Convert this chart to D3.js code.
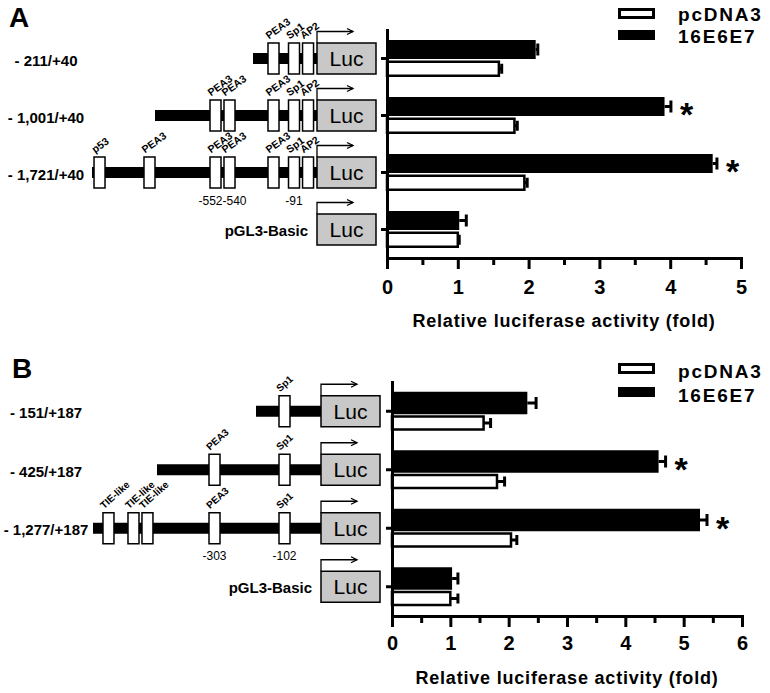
<!DOCTYPE html>
<html><head><meta charset="utf-8">
<script src="https://cdn.jsdelivr.net/npm/d3@7"></script>
<style>
body{margin:0;background:#fff}
svg{display:block}
text{font-family:"Liberation Sans",Arial,Helvetica,sans-serif;fill:#000}
</style>
</head><body>
<svg id="chart" width="770" height="693"></svg>
<script>
// ---------- DATA ----------
const seriesNames = ["pcDNA3", "16E6E7"];

// Panel A
const constructsA = ["- 211/+40", "- 1,001/+40", "- 1,721/+40", "pGL3-Basic"];
const startBpA = [-211, -1001, -1721, null];
const pcdnaA = [1.58, 1.80, 1.94, 1.00];
const pcdnaErrA = [0.04, 0.04, 0.04, 0.02];
const e6e7A = [2.10, 3.92, 4.60, 1.02];
const e6e7ErrA = [0.03, 0.09, 0.06, 0.10];
const signifA = [false, true, true, false];
const elementNamesA = ["p53", "PEA3", "PEA3", "PEA3", "PEA3", "Sp1", "AP2"];
const elementBpA = [-1635, -1064, -552, -540, -151, -91, -11];
const siteLabelsA = ["-552-540", "-91"];
const siteLabelBpA = [-546, -91];
const xTicksA = [0, 1, 2, 3, 4, 5];

// Panel B
const constructsB = ["- 151/+187", "- 425/+187", "- 1,277/+187", "pGL3-Basic"];
const startBpB = [-151, -425, -1277, null];
const pcdnaB = [1.57, 1.80, 2.04, 1.00];
const pcdnaErrB = [0.12, 0.13, 0.10, 0.13];
const e6e7B = [2.32, 4.57, 5.28, 1.03];
const e6e7ErrB = [0.15, 0.12, 0.12, 0.10];
const signifB = [false, true, true, false];
const elementNamesB = ["TIE-like", "TIE-like", "TIE-like", "PEA3", "Sp1"];
const elementBpB = [-1071, -738, -552, -303, -102];
const siteLabelsB = ["-303", "-102"];
const siteLabelBpB = [-303, -102];
const xTicksB = [0, 1, 2, 3, 4, 5, 6];

const axisTitle = "Relative luciferase activity (fold)";

// ---------- DRAW ----------
const svg = d3.select("#chart");
const FONT = '"Liberation Sans",Arial,sans-serif';

function drawPanel(cfg) {
  const g = svg.append("g");
  const n = cfg.constructs.length;
  const idx = d3.range(n);

  const x = d3.scaleLinear().domain([0, cfg.xMax]).range([cfg.axisX, cfg.axisRight]);
  const y = d3.scaleBand().domain(idx).range([cfg.top, cfg.bottom]);
  const cy = i => y(i) + y.bandwidth() / 2;
  // schematic promoter scale (not to scale, piecewise)
  const bp = d3.scaleLinear().domain(cfg.bpDomain).range(cfg.bpRange);

  // panel letter
  g.append("text").attr("x", cfg.letterX).attr("y", cfg.letterY)
    .attr("font-size", 28).attr("font-weight", "bold").text(cfg.letter);

  // ---- promoter diagrams ----
  idx.forEach(i => {
    const c = cy(i);
    const lucX = bp(cfg.bpDomain[cfg.bpDomain.length - 1]);
    const start = cfg.starts[i];
    if (start !== null) {
      g.append("rect").attr("x", bp(start)).attr("y", c - 5.5)
        .attr("width", lucX - bp(start)).attr("height", 11).attr("fill", "#000");
      cfg.elBp.forEach((b, k) => {
        if (b < start) return;
        const ex = bp(b) - 5.5;
        g.append("rect").attr("x", ex).attr("y", c - 15.5)
          .attr("width", 11).attr("height", 31)
          .attr("fill", "#fff").attr("stroke", "#000").attr("stroke-width", 1.5);
        g.append("text").attr("transform", `translate(${ex + 1},${c - 19}) rotate(${cfg.rot})`)
          .attr("font-size", cfg.elFont).attr("font-weight", "bold").text(cfg.elNames[k]);
      });
      g.append("text").attr("x", cfg.labelX).attr("y", c + 7)
        .attr("text-anchor", "middle").attr("font-size", 15).attr("font-weight", "bold")
        .text(cfg.constructs[i]);
    } else {
      g.append("text").attr("x", lucX - 9).attr("y", c + 6.5)
        .attr("text-anchor", "end").attr("font-size", 15).attr("font-weight", "bold")
        .text(cfg.constructs[i]);
    }
    if (i === 2) {
      cfg.siteLabels.forEach((t, k) => {
        g.append("text").attr("x", bp(cfg.siteBp[k])).attr("y", c + 32)
          .attr("text-anchor", "middle").attr("font-size", 12).text(t);
      });
    }
    // Luc box
    g.append("rect").attr("x", lucX).attr("y", c - 15.5).attr("width", 59).attr("height", 31)
      .attr("fill", "#c8c8c8").attr("stroke", "#000").attr("stroke-width", 1.5);
    g.append("text").attr("x", lucX + 29.5).attr("y", c + 7.5).attr("text-anchor", "middle")
      .attr("font-size", 21).text("Luc");
    // arrow
    const ay = c - 27;
    g.append("path").attr("d", `M${lucX},${c - 15.5}V${ay}H${lucX + 36}`)
      .attr("fill", "none").attr("stroke", "#000").attr("stroke-width", 1.3);
    g.append("path").attr("d", `M${lucX + 30},${ay - 3}L${lucX + 36},${ay}L${lucX + 30},${ay + 3}`)
      .attr("fill", "none").attr("stroke", "#000").attr("stroke-width", 1.3);
  });

  // ---- bars ----
  const bar = g.append("g");
  idx.forEach(i => {
    const c = cy(i);
    // 16E6E7 (black)
    const bt = c + cfg.blackOff[0], bb = c + cfg.blackOff[1];
    bar.append("rect").attr("x", x(0)).attr("y", bt)
      .attr("width", x(cfg.e6e7[i]) - x(0)).attr("height", bb - bt).attr("fill", "#000");
    const bc = (bt + bb) / 2;
    const be = x(cfg.e6e7[i] + cfg.e6e7Err[i]);
    bar.append("line").attr("x1", x(cfg.e6e7[i])).attr("x2", be).attr("y1", bc).attr("y2", bc)
      .attr("stroke", "#000").attr("stroke-width", 3);
    bar.append("line").attr("x1", be).attr("x2", be).attr("y1", bc - 6).attr("y2", bc + 6)
      .attr("stroke", "#000").attr("stroke-width", 3);
    if (cfg.signif[i]) {
      bar.append("text").attr("x", be + 9).attr("y", bc + 0.58 * 34)
        .attr("font-size", 34).attr("font-weight", "bold").text("*");
    }
    // pcDNA3 (white)
    const wt = c + cfg.whiteOff[0], wb = c + cfg.whiteOff[1];
    bar.append("rect").attr("x", x(0)).attr("y", wt + 1.25)
      .attr("width", x(cfg.pcdna[i]) - x(0)).attr("height", wb - wt - 2.5)
      .attr("fill", "#fff").attr("stroke", "#000").attr("stroke-width", 2.5);
    const wc = (wt + wb) / 2;
    const we = x(cfg.pcdna[i] + cfg.pcdnaErr[i]);
    bar.append("line").attr("x1", x(cfg.pcdna[i])).attr("x2", we).attr("y1", wc).attr("y2", wc)
      .attr("stroke", "#000").attr("stroke-width", 3);
    bar.append("line").attr("x1", we).attr("x2", we).attr("y1", wc - 5).attr("y2", wc + 5)
      .attr("stroke", "#000").attr("stroke-width", 3);
  });

  // ---- axes ----
  const yAxis = g.append("g").attr("transform", `translate(${cfg.axisX},0)`)
    .call(d3.axisLeft(y).tickSize(6).tickSizeOuter(0).tickFormat(""));
  yAxis.selectAll("path,line").attr("stroke", "#000").attr("stroke-width", 3);
  yAxis.select(".domain").attr("stroke-linecap", "square");

  const minor = d3.range(0.5, cfg.xMax, 1);
  const xMinor = g.append("g").attr("transform", `translate(0,${cfg.bottom})`)
    .call(d3.axisBottom(x).tickValues(minor).tickSize(7).tickSizeOuter(0).tickFormat(""));
  xMinor.select(".domain").remove();
  xMinor.selectAll("line").attr("stroke", "#000").attr("stroke-width", 3);

  const xAxis = g.append("g").attr("transform", `translate(0,${cfg.bottom})`)
    .call(d3.axisBottom(x).tickValues(cfg.xTicks).tickSize(11).tickSizeOuter(0).tickPadding(10).tickFormat(d3.format("d")));
  xAxis.selectAll("path,line").attr("stroke", "#000").attr("stroke-width", 3);
  xAxis.selectAll("text").attr("font-family", FONT).attr("font-size", 20)
    .attr("font-weight", "bold").attr("fill", "#000").attr("dy", null).attr("y", cfg.tickLabelDy);
  xAxis.select(".domain").attr("stroke-linecap", "square");

  g.append("text").attr("x", (cfg.axisX + cfg.axisRight) / 2).attr("y", cfg.titleY)
    .attr("text-anchor", "middle").attr("font-size", 18).attr("font-weight", "bold")
    .attr("letter-spacing", 0.8).text(axisTitle);

  // ---- legend ----
  const lg = g.append("g");
  cfg.legendRows.forEach((ly, k) => {
    if (k === 0) {
      lg.append("rect").attr("x", 619.5).attr("y", ly + 1.5).attr("width", 34).attr("height", 8)
        .attr("fill", "#fff").attr("stroke", "#000").attr("stroke-width", 3);
    } else {
      lg.append("rect").attr("x", 618).attr("y", ly).attr("width", 37).attr("height", 10)
        .attr("fill", "#000");
    }
    lg.append("text").attr("x", 678).attr("y", ly + cfg.legendTextDy).attr("font-size", 19)
      .attr("font-weight", "bold").attr("letter-spacing", 1.8).text(seriesNames[k]);
  });
}

drawPanel({
  letter: "A", letterX: 9, letterY: 27,
  constructs: constructsA, starts: startBpA,
  pcdna: pcdnaA, pcdnaErr: pcdnaErrA, e6e7: e6e7A, e6e7Err: e6e7ErrA, signif: signifA,
  elNames: elementNamesA, elBp: elementBpA, siteLabels: siteLabelsA, siteBp: siteLabelBpA,
  xTicks: xTicksA, xMax: 5,
  axisX: 387, axisRight: 741, top: 30, bottom: 258,
  bpDomain: [-1721, -1001, -552, -540, -211, -91, 40],
  bpRange: [92, 155, 215.5, 229.5, 253, 294, 317],
  labelX: 46, rot: -36, elFont: 10.5,
  blackOff: [-18.5, 0.5], whiteOff: [2, 18.5],
  tickLabelDy: 36, titleY: 327,
  legendRows: [8, 30], legendTextDy: 12.5
});

drawPanel({
  letter: "B", letterX: 12, letterY: 378,
  constructs: constructsB, starts: startBpB,
  pcdna: pcdnaB, pcdnaErr: pcdnaErrB, e6e7: e6e7B, e6e7Err: e6e7ErrB, signif: signifB,
  elNames: elementNamesB, elBp: elementBpB, siteLabels: siteLabelsB, siteBp: siteLabelBpB,
  xTicks: xTicksB, xMax: 6,
  axisX: 392, axisRight: 742, top: 382, bottom: 616,
  bpDomain: [-1277, -425, -303, -151, -102, 187],
  bpRange: [93, 157, 214.5, 256, 284.5, 321],
  labelX: 46, rot: -42, elFont: 10,
  blackOff: [-19.5, 3], whiteOff: [4, 19.5],
  tickLabelDy: 34, titleY: 684,
  legendRows: [363, 387], legendTextDy: 14.5
});
</script>
</body></html>
